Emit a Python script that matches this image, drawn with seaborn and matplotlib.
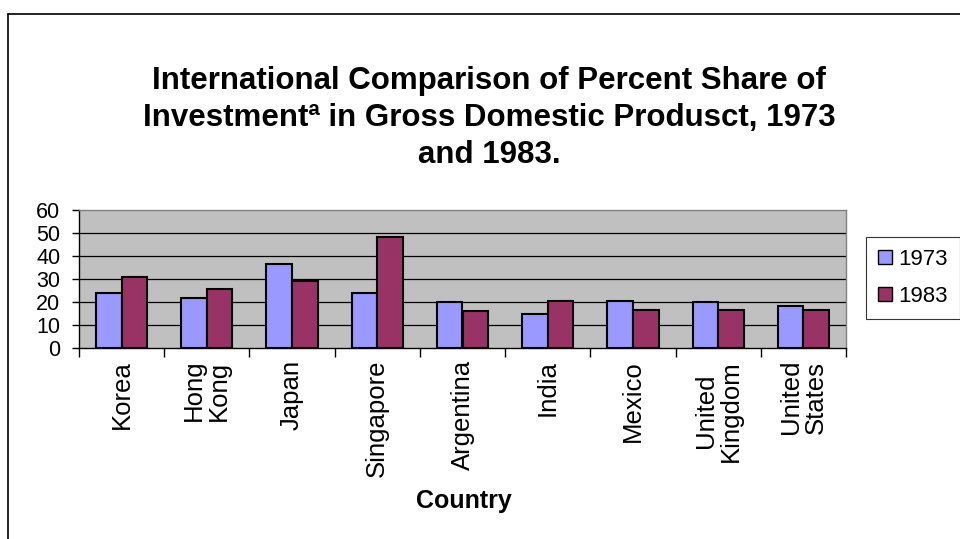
import pandas as pd
import numpy as np
import matplotlib
matplotlib.use('Agg')
import matplotlib.pyplot as plt
from matplotlib.lines import Line2D
import seaborn as sns

# Data
countries = ['Korea', 'Hong\nKong', 'Japan', 'Singapore', 'Argentina',
             'India', 'Mexico', 'United\nKingdom', 'United\nStates']
share_1973 = [24.1, 21.6, 36.6, 24.1, 19.9, 15.0, 20.6, 19.9, 18.3]
share_1983 = [30.8, 25.7, 29.1, 48.2, 15.9, 20.6, 16.6, 16.6, 16.6]
years = ['1973', '1983']

df = pd.DataFrame({
    'Country': countries * 2,
    'Year': [years[0]] * len(countries) + [years[1]] * len(countries),
    'Share': share_1973 + share_1983,
})

sns.set_style('white')
plt.rcParams['font.family'] = ['Liberation Sans', 'DejaVu Sans']
plt.rcParams['text.color'] = 'black'
plt.rcParams['axes.labelcolor'] = 'black'
plt.rcParams['xtick.color'] = 'black'
plt.rcParams['ytick.color'] = 'black'

fig = plt.figure(figsize=(9.6, 5.39), dpi=100)
ax = fig.add_axes([79 / 960, 1 - 348 / 539, (846 - 79) / 960, (348 - 210) / 539])
ax.set_facecolor('#C0C0C0')

sns.barplot(data=df, x='Country', y='Share', hue='Year', order=countries,
            hue_order=years, palette={'1973': '#9999FF', '1983': '#993366'},
            width=0.6, edgecolor='black', linewidth=1.5, saturation=1,
            legend=False, ax=ax, zorder=3)

ax.set_ylim(0, 60)
ax.set_xlim(-0.5, len(countries) - 0.5)
ax.set_yticks(range(0, 61, 10))
for y in range(10, 60, 10):
    ax.axhline(y, color='black', linewidth=0.9, zorder=1)

for s in ['top', 'right']:
    ax.spines[s].set_color('#808080')
    ax.spines[s].set_linewidth(1)
ax.spines['left'].set_color('black')
ax.spines['bottom'].set_color('black')
ax.spines['left'].set_linewidth(1)
ax.spines['bottom'].set_linewidth(1)

ax.tick_params(axis='y', length=5, width=1, color='black', labelsize=15.5, pad=8.5, left=True)
ax.set_xticks(np.arange(len(countries)))
ax.set_xticklabels(countries, rotation=90, fontsize=18.5, va='top',
                   ha='center', multialignment='center', linespacing=1.05)
ax.tick_params(axis='x', which='major', length=0, pad=8.5)
ax.set_xticks(np.arange(-0.5, len(countries)), minor=True)
ax.tick_params(axis='x', which='minor', length=6.5, width=1, color='black', bottom=True)
ax.set_ylabel('')
ax.set_xlabel('')
fig.text(464 / 960, 1 - 501 / 539, 'Country', ha='center', va='center',
         fontsize=18, fontweight='bold')

fig.text(489 / 960, 1 - 118 / 539, 'International Comparison of Percent Share of\n'
         'Investmentª in Gross Domestic Produsct, 1973\nand 1983.',
         ha='center', va='center', fontsize=22.5, fontweight='bold', linespacing=1.3)

handles = [plt.Rectangle((0, 0), 1, 1, facecolor='#9999FF', edgecolor='black', linewidth=1),
           plt.Rectangle((0, 0), 1, 1, facecolor='#993366', edgecolor='black', linewidth=1)]
leg = fig.legend(handles, years, loc='center left', bbox_to_anchor=(866 / 960, 1 - 278 / 539),
                 fontsize=16, frameon=True, fancybox=False, edgecolor='black',
                 handlelength=0.6, handleheight=0.6, handletextpad=0.3,
                 labelspacing=0.7, borderpad=0.55, borderaxespad=0)
leg.get_frame().set_linewidth(0.8)

# outer chart frame
fig.add_artist(Line2D([8 / 960, 1], [1 - 14 / 539, 1 - 14 / 539], color='black', linewidth=1.2))
fig.add_artist(Line2D([8 / 960, 8 / 960], [0, 1 - 14 / 539], color='black', linewidth=1.2))

fig.savefig('out.png', dpi=100)
